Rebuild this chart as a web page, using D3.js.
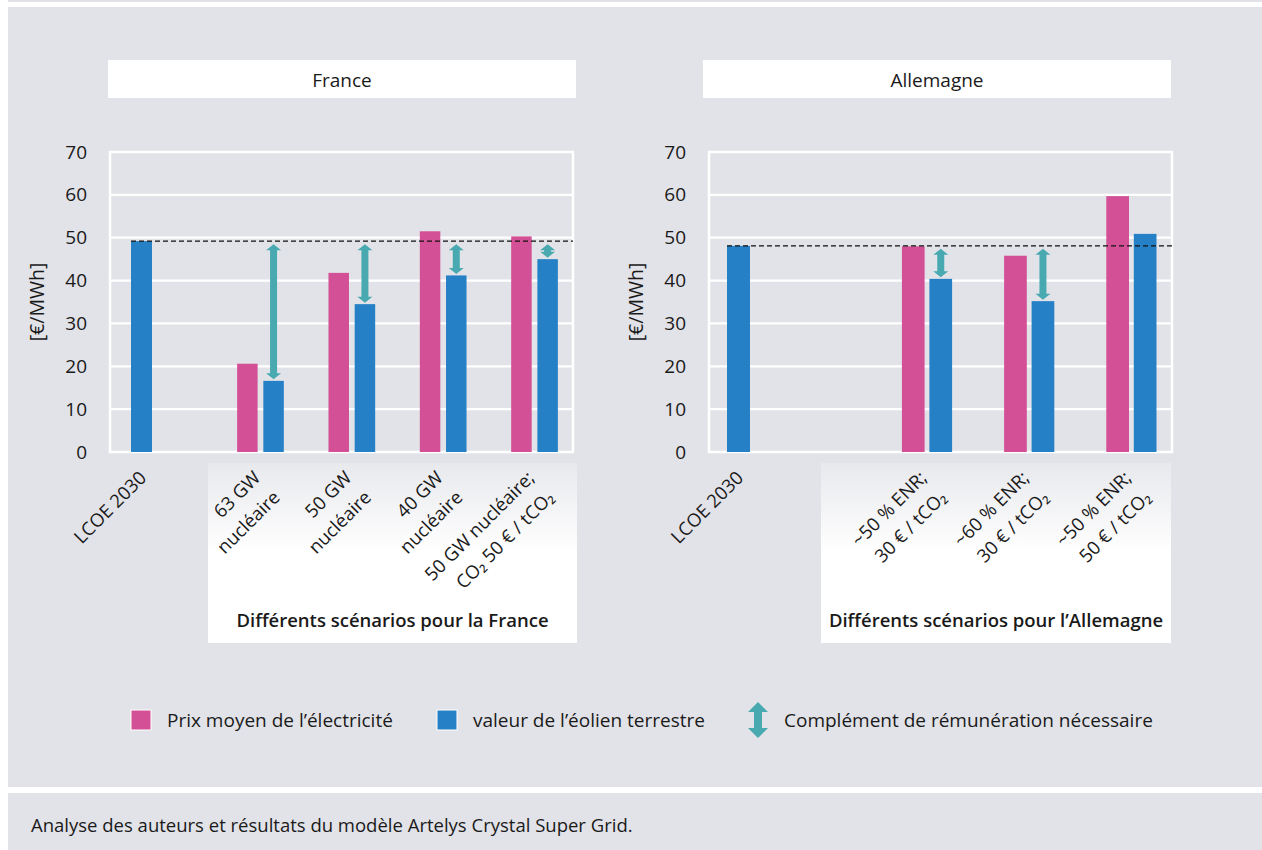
<!DOCTYPE html>
<html><head><meta charset="utf-8">
<script src="https://cdn.jsdelivr.net/npm/d3@7"></script>
<style>
html,body{margin:0;padding:0;background:#fff;}
svg text{font-family:"Open Sans",sans-serif;fill:#1a1a1a;}
</style></head>
<body>
<svg id="c" width="1262" height="850"></svg>
<script>
// ---------- DATA ----------
const yTicks = [0, 10, 20, 30, 40, 50, 60, 70];
const yUnit = "[€/MWh]";
const lcoeLabel = "LCOE 2030";

const frTitle = "France";
const frScenarios = [["63 GW", "nucléaire"], ["50 GW", "nucléaire"], ["40 GW", "nucléaire"], ["50 GW nucléaire;", "CO₂ 50 € / tCO₂"]];
const frPrice = [20.6, 41.8, 51.5, 50.3];
const frWind = [16.6, 34.5, 41.2, 45.0];
const frLcoe = 49.2;
const frGroupTitle = "Différents scénarios pour la France";

const deTitle = "Allemagne";
const deScenarios = [["~50 % ENR;", "30 € / tCO₂"], ["~60 % ENR;", "30 € / tCO₂"], ["~50 % ENR;", "50 € / tCO₂"]];
const dePrice = [48.0, 45.8, 59.7];
const deWind = [40.4, 35.2, 50.9];
const deLcoe = 48.1;
const deGroupTitle = "Différents scénarios pour l’Allemagne";

const legendLabels = ["Prix moyen de l’électricité", "valeur de l’éolien terrestre", "Complément de rémunération nécessaire"];
const sourceText = "Analyse des auteurs et résultats du modèle Artelys Crystal Super Grid.";

// ---------- STYLE ----------
const BG = "#e2e3e8", PINK = "#d45096", BLUE = "#2680c5", TEAL = "#49a9b1";

const svg = d3.select("#c");
const defs = svg.append("defs");
const grad = defs.append("linearGradient").attr("id", "fade").attr("x1", 0).attr("y1", 0).attr("x2", 0).attr("y2", 1);
grad.append("stop").attr("offset", "0%").attr("stop-color", "#e8e9ed");
grad.append("stop").attr("offset", "50%").attr("stop-color", "#ffffff");
grad.append("stop").attr("offset", "100%").attr("stop-color", "#ffffff");

// backgrounds
svg.append("rect").attr("x", 8).attr("y", 0).attr("width", 1254).attr("height", 2).attr("fill", BG);
svg.append("rect").attr("x", 8).attr("y", 7).attr("width", 1254).attr("height", 780).attr("fill", BG);
svg.append("rect").attr("x", 8).attr("y", 793).attr("width", 1254).attr("height", 57).attr("fill", BG);

const y = d3.scaleLinear().domain([0, 70]).range([452, 152]);

function arrowPath(x, y1, y2, sw, hw, hl) {
  return `M${x},${y1} L${x + hw},${y1 + hl} L${x + sw},${y1 + hl} L${x + sw},${y2 - hl} L${x + hw},${y2 - hl} L${x},${y2} L${x - hw},${y2 - hl} L${x - sw},${y2 - hl} L${x - sw},${y1 + hl} L${x - hw},${y1 + hl} Z`;
}

function panel(cfg) {
  const g = svg.append("g");
  // title box
  g.append("rect").attr("x", cfg.titleBox[0]).attr("y", 60).attr("width", cfg.titleBox[1] - cfg.titleBox[0]).attr("height", 38).attr("fill", "#fff");
  g.append("text").attr("x", (cfg.titleBox[0] + cfg.titleBox[1]) / 2).attr("y", 86.5).attr("text-anchor", "middle")
    .attr("font-size", 19).text(cfg.title);

  // scenario box with fade
  g.append("rect").attr("x", cfg.scenBox[0]).attr("y", 463).attr("width", cfg.scenBox[1] - cfg.scenBox[0]).attr("height", 180).attr("fill", "url(#fade)");
  g.append("text").attr("x", (cfg.scenBox[0] + cfg.scenBox[1]) / 2).attr("y", 627).attr("text-anchor", "middle")
    .attr("font-size", 18.5).attr("font-weight", 600).text(cfg.groupTitle);

  const [fl, fr] = cfg.frame;
  // gridlines
  g.selectAll(".grid").data(yTicks).join("line")
    .attr("x1", fl).attr("x2", fr).attr("y1", d => y(d)).attr("y2", d => y(d))
    .attr("stroke", "#fff").attr("stroke-width", 2.2);
  // frame
  g.append("rect").attr("x", fl).attr("y", y(70)).attr("width", fr - fl).attr("height", y(0) - y(70))
    .attr("fill", "none").attr("stroke", "#fff").attr("stroke-width", 2.5);

  // y axis labels
  const ax = g.append("g").attr("transform", `translate(${fl - 23},0)`)
    .call(d3.axisLeft(y).tickValues(yTicks).tickSize(0).tickPadding(0));
  ax.select(".domain").remove();
  ax.selectAll("text").attr("font-size", 19).attr("font-family", "Open Sans").attr("fill", "#1a1a1a");
  g.append("text").attr("transform", `translate(${fl - 73},${y(35)}) rotate(-90)`).attr("text-anchor", "middle")
    .attr("dy", "0.35em").attr("font-size", 19.5).text(yUnit);

  // scales
  const x0 = d3.scaleBand().domain(d3.range(cfg.scen.length)).range(cfg.scenRange)
    .paddingInner(cfg.pad).paddingOuter(cfg.pad / 2);
  const x1 = d3.scaleBand().domain(["price", "wind"]).range([0, x0.bandwidth()]).paddingInner(cfg.subPad);
  const xL = d3.scaleBand().domain([lcoeLabel]).range(cfg.lcoeRange).padding(0);

  // LCOE bar
  g.append("rect").attr("x", xL(lcoeLabel)).attr("y", y(cfg.lcoe)).attr("width", xL.bandwidth())
    .attr("height", y(0) - y(cfg.lcoe)).attr("fill", BLUE);

  const rows = cfg.scen.map((s, i) => ({ i, s, price: cfg.price[i], wind: cfg.wind[i] }));
  const grp = g.selectAll(".grp").data(rows).join("g").attr("transform", d => `translate(${x0(d.i)},0)`);
  grp.append("rect").attr("x", x1("price")).attr("y", d => y(d.price)).attr("width", x1.bandwidth())
    .attr("height", d => y(0) - y(d.price)).attr("fill", PINK);
  grp.append("rect").attr("x", x1("wind")).attr("y", d => y(d.wind)).attr("width", x1.bandwidth())
    .attr("height", d => y(0) - y(d.wind)).attr("fill", BLUE);

  // dashed reference
  g.append("line").attr("x1", xL(lcoeLabel)).attr("x2", fr).attr("y1", y(cfg.lcoe)).attr("y2", y(cfg.lcoe))
    .attr("stroke", "#111").attr("stroke-width", 1.3).attr("stroke-dasharray", "5,3");

  // arrows
  grp.filter(d => d.wind < cfg.lcoe).append("path")
    .attr("d", d => arrowPath(x1("wind") + x1.bandwidth() / 2, y(cfg.lcoe) + 3, y(d.wind) - 1.5, 3.5, 7.5, 6))
    .attr("fill", TEAL);

  // x labels
  g.append("text").attr("transform", `translate(${xL(lcoeLabel) + xL.bandwidth() / 2 + 6},${479}) rotate(-45)`)
    .attr("text-anchor", "end").attr("font-size", 18.5).text(lcoeLabel);
  grp.each(function (d) {
    const cx = x0.bandwidth() / 2;
    const t = d3.select(this).append("text")
      .attr("transform", `translate(${cx + 1},${479}) rotate(-45)`)
      .attr("text-anchor", "end").attr("font-size", 18.5);
    d.s.forEach((line, k) => {
      t.append("tspan").attr("x", 0).attr("y", 0).attr("dy", (k * 1.5) + "em").text(line);
    });
  });
}

panel({
  title: frTitle, titleBox: [108, 576], scenBox: [208, 577], groupTitle: frGroupTitle,
  frame: [110, 573], scen: frScenarios, price: frPrice, wind: frWind, lcoe: frLcoe,
  scenRange: [214.8, 580.2], pad: 1 - 46.7 / 91.35, subPad: 5.7 / 26.2, lcoeRange: [131, 152]
});
panel({
  title: deTitle, titleBox: [703, 1171], scenBox: [821, 1171], groupTitle: deGroupTitle,
  frame: [709, 1172], scen: deScenarios, price: dePrice, wind: deWind, lcoe: deLcoe,
  scenRange: [875.9, 1182.5], pad: 1 - 50.2 / 102.2, subPad: 4.8 / 27.5, lcoeRange: [727, 750]
});

// legend
const lg = svg.append("g");
lg.append("rect").attr("x", 131).attr("y", 710).attr("width", 20).attr("height", 20).attr("fill", PINK).attr("stroke", "#fff").attr("stroke-width", 1);
lg.append("text").attr("x", 167).attr("y", 727).attr("font-size", 19).text(legendLabels[0]);
lg.append("rect").attr("x", 437).attr("y", 710).attr("width", 20).attr("height", 20).attr("fill", BLUE).attr("stroke", "#fff").attr("stroke-width", 1);
lg.append("text").attr("x", 473).attr("y", 727).attr("font-size", 19).text(legendLabels[1]);
lg.append("path").attr("d", arrowPath(758, 702, 738, 4, 10, 10)).attr("fill", TEAL);
lg.append("text").attr("x", 784).attr("y", 727).attr("font-size", 19).text(legendLabels[2]);

// source
svg.append("text").attr("x", 31).attr("y", 832).attr("font-size", 18.5).text(sourceText);
</script>
</body></html>
